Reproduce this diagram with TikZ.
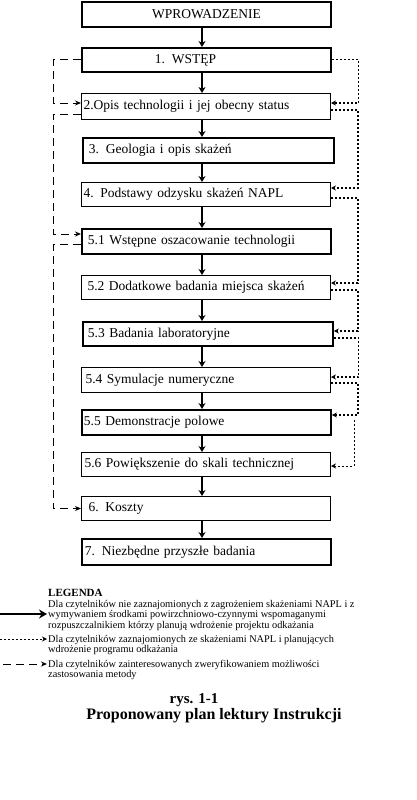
\documentclass[tikz,border=0pt]{standalone}
\usepackage{fontspec}
\setmainfont{Liberation Serif}
\usetikzlibrary{arrows.meta,calc}
\begin{document}
\begin{tikzpicture}[x=1pt,y=-1pt,
  box/.style={draw, line width=1pt, inner xsep=2pt, inner ysep=0pt, anchor=north west,
    align=left, font=\fontsize{13.5}{14}\selectfont},
  bold/.style={line width=1.8pt},
  thickarrow/.style={line width=2.6pt, -{Stealth[length=6pt,width=7pt]}},
  dashedconn/.style={line width=1pt, dash pattern=on 8pt off 5pt, -{Stealth[length=6pt,width=5pt]}},
  dottedconn/.style={line width=1.2pt, dash pattern=on 2pt off 2pt, -{Stealth[length=5pt,width=5pt]}},
  legtext/.style={inner sep=0pt, anchor=base west, font=\fontsize{10.3}{10.5}\selectfont}
]
\path[fill=white, use as bounding box] (0,0) rectangle (416,800);

\coordinate (S) at (202,0);

\node[box, bold, minimum height=25, text width=245, align=center] (b0) at (81,1) {WPROWADZENIE};
\node[box, bold, minimum height=24, text width=245] (b1) at (81,47) {\hspace*{71pt}1. WSTĘP};
\node[box, minimum height=26, text width=245] (b2) at (81,93) {2.Opis technologii i jej obecny status};
\node[box, bold, minimum height=25, text width=247] (b3) at (82,137) {\hspace*{4pt}3. Geologia i opis skażeń};
\node[box, minimum height=24, text width=245] (b4) at (81,182) {4. Podstawy odzysku skażeń NAPL};
\node[box, bold, minimum height=25, text width=245] (b51) at (81,228) {\hspace*{4pt}5.1 Wstępne oszacowanie technologii};
\node[box, minimum height=24, text width=245] (b52) at (81,275) {\hspace*{4pt}5.2 Dodatkowe badania miejsca skażeń};
\node[box, bold, minimum height=24, text width=246] (b53) at (82,321) {\hspace*{3pt}5.3 Badania laboratoryjne};
\node[box, minimum height=25, text width=245] (b54) at (81,367) {\hspace*{2pt}5.4 Symulacje numeryczne};
\node[box, bold, minimum height=25, text width=245] (b55) at (81,409) {5.5 Demonstracje polowe};
\node[box, minimum height=24, text width=245] (b56) at (81,452) {\hspace*{1pt}5.6 Powiększenie do skali technicznej};
\node[box, minimum height=24, text width=245] (b6) at (81,496) {\hspace*{5pt}6. Koszty};
\node[box, bold, minimum height=26, text width=245] (b7) at (81,538) {\hspace*{1pt}7. Niezbędne przyszłe badania};

% main thick arrows
\foreach \a/\b in {b0/b1,b1/b2,b2/b3,b3/b4,b4/b51,b51/b52,b52/b53,b53/b54,b54/b55,b55/b56,b56/b6,b6/b7}
  \draw[thickarrow] (\a.south -| S) -- (\b.north -| S);

% left dashed connectors (vertical at x=53)
\draw[dashedconn] (b1.west) -- ++(-28,0) |- ($(b2.north west)+(0,10)$);
\draw[dashedconn] ($(b2.south west)+(0,-6)$) -- ++(-28,0) |- ($(b51.north west)+(0,6)$);
\draw[dashedconn] ($(b51.south west)+(0,-10)$) -- ++(-28,0) |- (b6.west);

% right dotted connectors (vertical at x=357)
\draw[dottedconn] (b1.east) -- ++(27,0) |- ($(b2.north east)+(0,10)$);
\draw[dottedconn] ($(b2.north east)+(0,17)$) -- ++(27,0) |- ($(b4.north east)+(0,6)$);
\draw[dottedconn] ($(b4.north east)+(0,16)$) -- ++(27,0) |- ($(b52.north east)+(0,8)$);
\draw[dottedconn] ($(b52.north east)+(0,15)$) -- ++(27,0) |- ($(b53.north east)+(0,10)$);
\draw[dottedconn] ($(b53.north east)+(0,17)$) -- ++(25,0) |- ($(b54.north east)+(0,10)$);
\draw[dottedconn] ($(b54.north east)+(0,16)$) -- ++(27,0) |- ($(b55.north east)+(0,6)$);
\coordinate (f) at (354,420);
\draw[dottedconn, line width=1pt] (f) |- ($(b56.north east)+(0,14)$);

% legend
\node[inner sep=0pt, anchor=base west, font=\fontsize{11}{12}\selectfont\bfseries] (lgh) at (48,596.5) {LEGENDA};
\node[legtext] (lg1a) at (48,607) {Dla czytelników nie zaznajomionych z zagrożeniem skażeniami NAPL i z};
\node[legtext] (lg1b) at (48,617.5) {wymywaniem środkami powirzchniowo-czynnymi wspomaganymi};
\node[legtext] (lg1c) at (48,628) {rozpuszczalnikiem którzy planują wdrożenie projektu odkażania};
\node[legtext] (lg2a) at (48,642) {Dla czytelników zaznajomionych ze skażeniami NAPL i planujących};
\node[legtext] (lg2b) at (48,652.5) {wdrożenie programu odkażania};
\node[legtext] (lg3a) at (48,667) {Dla czytelników zainteresowanych zweryfikowaniem możliwości};
\node[legtext] (lg3b) at (48,677.5) {zastosowania metody};
\coordinate (a1s) at (0,614); \coordinate (a1e) at (47,614);
\coordinate (a2s) at (0,639); \coordinate (a2e) at (47,639);
\coordinate (a3s) at (3,664); \coordinate (a3e) at (47,664);
\draw[thickarrow, -{Stealth[length=8pt,width=9pt]}] (a1s) -- (a1e);
\draw[dottedconn, line width=1pt] (a2s) -- (a2e);
\draw[dashedconn] (a3s) -- (a3e);

\node[inner sep=0pt, anchor=base, font=\fontsize{15}{16}\selectfont\bfseries] (cap1) at (194,703) {rys. 1-1};
\node[inner sep=0pt, anchor=base, font=\fontsize{16}{17}\selectfont\bfseries] (cap2) at (214,719.5) {Proponowany plan lektury Instrukcji};
\end{tikzpicture}
\end{document}
